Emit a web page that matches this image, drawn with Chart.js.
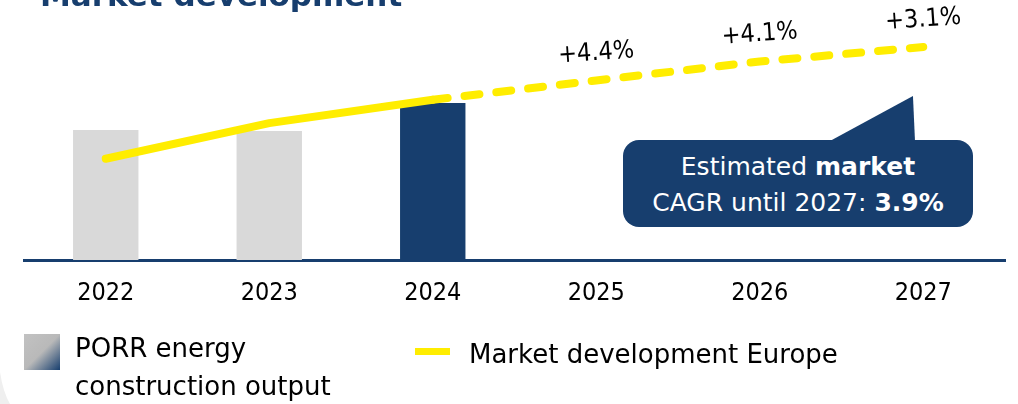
<!DOCTYPE html>
<html>
<head>
<meta charset="utf-8">
<script src="https://cdn.jsdelivr.net/npm/chart.js@4"></script>
<style>
  body { margin: 0; background: #fff; font-family: 'DejaVu Sans', sans-serif; }
  #wrap { position: relative; width: 1018px; height: 404px; overflow: hidden; }
  #wrap canvas { position: absolute; left: 0; top: 0; }
  .title { position: absolute; left: 40px; top: -20px; font-size: 31px; line-height: 31px; font-weight: bold; color: #173e6e; white-space: nowrap; }
  .callout { position: absolute; left: 623px; top: 140px; width: 350px; height: 87px; border-radius: 16px; background: #173e6e;
    color: #fff; font-size: 25px; line-height: 36px; text-align: center; padding-top: 9px; box-sizing: border-box; }
  .pointer { position: absolute; left: 830px; top: 96px; width: 85px; height: 45px; background: #173e6e;
    clip-path: polygon(0 100%, 100% 100%, 97.6% 0); }
  .leg-box { position: absolute; left: 24px; top: 334px; width: 36px; height: 36px;
    background: linear-gradient(135deg, #c2c2c2 0%, #b9b9b9 50%, #173e6e 100%); }
  .leg-line { position: absolute; left: 415px; top: 348px; width: 35px; height: 7px; background: #ffed00; }
  .leg-text { position: absolute; font-size: 26px; line-height: 38px; color: #000; white-space: nowrap; }
  .edge { position: absolute; left: 0; top: 0; }
</style>
</head>
<body>
<div id="wrap">
  <canvas id="chart" width="1018" height="404"></canvas>
  <svg class="edge" width="1018" height="404"><path d="M0 372 Q3 392 10 404 L0 404 Z" fill="#efefef"/></svg>
  <div class="title">Market development</div>
  <div class="pointer"></div>
  <div class="callout">Estimated <b>market</b><br>CAGR until 2027: <b>3.9%</b></div>
  <div class="leg-box"></div>
  <div class="leg-text" style="left:75px; top:329px;">PORR energy<br>construction output</div>
  <div class="leg-line"></div>
  <div class="leg-text" style="left:469px; top:335px;">Market development Europe</div>
</div>
<script>
const years = ['2022', '2023', '2024', '2025', '2026', '2027'];
const porrOutput = [1.30, 1.29, 1.57, null, null, null];
const marketIndex = [86.6, 94.7, 100, 104.4, 108.7, 112.0];
const growthLabels = [null, null, null, '+4.4%', '+4.1%', '+3.1%'];
const barColors = ['#d9d9d9', '#d9d9d9', '#173e6e'];

const navy = '#173e6e';
const yellow = '#ffed00';
const narrowFont = "'DejaVu Sans Condensed', 'DejaVu Sans', sans-serif";

// growth figures written above the forecast points
const growthPlugin = {
  id: 'growth',
  afterDatasetsDraw(chart) {
    const ctx = chart.ctx;
    const meta = chart.getDatasetMeta(0);
    ctx.save();
    ctx.font = '25px ' + narrowFont;
    ctx.fillStyle = '#000';
    ctx.textAlign = 'center';
    ctx.textBaseline = 'middle';
    growthLabels.forEach((txt, i) => {
      if (!txt) return;
      const pt = meta.data[i];
      ctx.save();
      ctx.translate(pt.x, pt.y - 27);
      ctx.rotate(-4 * Math.PI / 180);
      ctx.fillText(txt, 0, 0);
      ctx.restore();
    });
    ctx.restore();
  }
};

new Chart(document.getElementById('chart'), {
  data: {
    labels: years,
    datasets: [
      {
        type: 'line',
        label: 'Market development Europe',
        data: marketIndex,
        yAxisID: 'y2',
        borderColor: yellow,
        borderWidth: 8,
        borderCapStyle: 'round',
        borderJoinStyle: 'round',
        pointRadius: 0,
        tension: 0,
        order: 0,
        segment: {
          borderDash: c => c.p0DataIndex >= 2 ? [15, 17] : undefined
        }
      },
      {
        type: 'bar',
        label: 'PORR energy construction output',
        data: porrOutput,
        yAxisID: 'y',
        backgroundColor: barColors,
        barPercentage: 0.4,
        categoryPercentage: 1,
        order: 1
      }
    ]
  },
  options: {
    responsive: false,
    animation: false,
    layout: { padding: { left: 24, right: 13, top: 10, bottom: 86 } },
    plugins: { legend: { display: false }, tooltip: { enabled: false } },
    scales: {
      x: {
        offset: true,
        grid: { display: false },
        border: { display: true, color: navy, width: 3 },
        ticks: { color: '#000', font: { family: narrowFont, size: 25 }, padding: 10 }
      },
      y: { display: false, min: 0, max: 2.5 },
      y2: { display: false, min: 63.6, max: 120.4 }
    }
  },
  plugins: [growthPlugin]
});
</script>
</body>
</html>
